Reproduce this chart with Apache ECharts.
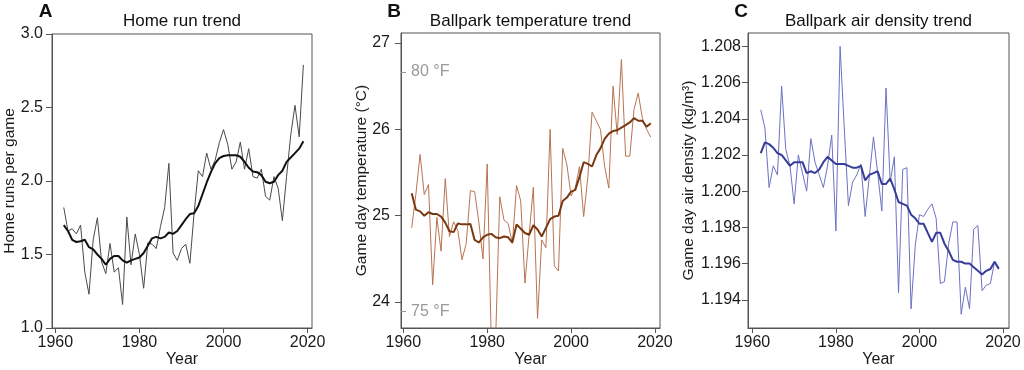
<!DOCTYPE html>
<html>
<head>
<meta charset="utf-8">
<script src="https://cdn.jsdelivr.net/npm/echarts@6/dist/echarts.min.js"></script>
<style>html,body{margin:0;padding:0;background:#fff}#c{width:1024px;height:370px}</style>
</head>
<body>
<div id="c"></div>
<script>
var years = [1962,1963,1964,1965,1966,1967,1968,1969,1970,1971,1972,1973,1974,1975,1976,1977,1978,1979,1980,1981,1982,1983,1984,1985,1986,1987,1988,1989,1990,1991,1992,1993,1994,1995,1996,1997,1998,1999,2000,2001,2002,2003,2004,2005,2006,2007,2008,2009,2010,2011,2012,2013,2014,2015,2016,2017,2018,2019];
var yearTicks = [1960, 1980, 2000, 2020];

var hrRaw = [1.82,1.66,1.675,1.64,1.70,1.38,1.23,1.60,1.75,1.45,1.37,1.575,1.38,1.41,1.16,1.755,1.43,1.64,1.50,1.27,1.58,1.57,1.54,1.69,1.82,2.12,1.51,1.46,1.54,1.57,1.44,1.78,2.07,2.03,2.19,2.08,2.14,2.26,2.35,2.25,2.08,2.13,2.265,2.08,2.22,2.03,2.02,2.08,1.895,1.87,2.03,1.95,1.73,2.03,2.315,2.515,2.30,2.79];
var hrSmooth = [1.70,1.66,1.60,1.585,1.59,1.60,1.55,1.535,1.50,1.47,1.43,1.47,1.49,1.49,1.46,1.445,1.46,1.47,1.48,1.51,1.56,1.61,1.62,1.61,1.62,1.65,1.64,1.66,1.70,1.74,1.775,1.78,1.83,1.91,1.99,2.06,2.12,2.155,2.17,2.175,2.175,2.175,2.165,2.13,2.09,2.065,2.06,2.04,1.995,1.985,1.995,2.04,2.07,2.13,2.16,2.19,2.22,2.27];
var hrTicks = [1.0, 1.5, 2.0, 2.5, 3.0];

var tempRaw = [24.86,25.25,25.71,25.245,25.36,24.20,24.98,24.59,25.43,24.76,24.93,24.83,24.49,24.68,25.29,25.28,24.93,24.50,25.60,23.50,23.55,25.22,24.95,24.91,24.68,25.35,25.17,24.22,24.78,25.33,23.81,24.72,24.63,26.00,24.42,24.36,25.78,25.59,25.23,25.32,25.57,24.99,25.45,26.20,26.10,26.00,25.57,25.32,26.50,25.94,26.81,25.69,25.69,26.23,26.42,26.13,26.00,25.91];
var tempSmooth = [25.26,25.07,25.05,25.00,25.04,25.02,25.02,24.99,24.92,24.82,24.81,24.91,24.90,24.90,24.905,24.72,24.69,24.75,24.78,24.79,24.75,24.74,24.76,24.75,24.69,24.90,24.85,24.80,24.78,24.89,24.84,24.76,24.86,24.96,24.99,25.00,25.17,25.21,25.28,25.30,25.45,25.62,25.60,25.57,25.70,25.78,25.89,25.95,25.98,25.99,26.02,26.05,26.08,26.13,26.10,26.10,26.03,26.07];
var tempTicks = [24, 25, 26, 27];
var fahrTicks = [75, 80];

var densRaw = [1.2045,1.2035,1.2002,1.2014,1.2009,1.2058,1.2023,1.2014,1.1993,1.2020,1.2010,1.2000,1.2029,1.2016,1.2009,1.2002,1.2014,1.2031,1.1978,1.2080,1.2035,1.1992,1.2005,1.2009,1.2015,1.1986,1.2008,1.2030,1.2010,1.1989,1.2057,1.2005,1.2019,1.1944,1.2012,1.2013,1.1935,1.1970,1.1987,1.1986,1.1990,1.1993,1.1985,1.1949,1.1950,1.1971,1.1983,1.1983,1.1932,1.1947,1.1935,1.1979,1.1981,1.1945,1.1948,1.1949,1.1961,1.1958];
var densSmooth = [1.2021,1.2027,1.2026,1.2024,1.2021,1.2020,1.2017,1.2014,1.2016,1.2016,1.2016,1.2010,1.2011,1.2010,1.2012,1.2016,1.2019,1.2017,1.2015,1.2015,1.2015,1.2014,1.2013,1.2013,1.2014,1.2006,1.2009,1.2010,1.2011,1.2004,1.2004,1.2007,1.2001,1.1994,1.1993,1.1992,1.1987,1.1985,1.1982,1.1982,1.1977,1.1972,1.1977,1.1977,1.1971,1.1967,1.1962,1.1961,1.1961,1.1960,1.1960,1.1958,1.1956,1.1954,1.1956,1.1957,1.1961,1.1957];
var densTicks = [1.194, 1.196, 1.198, 1.200, 1.202, 1.204, 1.206, 1.208];

var titles = ['Home run trend', 'Ballpark temperature trend', 'Ballpark air density trend'];
var letters = ['A', 'B', 'C'];
var yNames = ['Home runs per game', 'Game day temperature (\u00B0C)', 'Game day air density (kg/m\u00B3)'];
var xName = 'Year';

function pairs(v) { return years.map(function (y, i) { return [y, v[i]]; }); }

var FONT = '"Liberation Sans", Arial, Helvetica, sans-serif';
var AX = '#555';
var grids = [
  {left: 52, top: 34, width: 260, height: 294, xmin: 1959.2, xmax: 2021.05},
  {left: 401, top: 33, width: 259, height: 295, xmin: 1959.45, xmax: 2021.2},
  {left: 748, top: 33, width: 261, height: 295, xmin: 1958.95, xmax: 2021.45}
];
var yCfg = [
  {min: 1.0, max: 3.0, ticks: hrTicks, fmt: function (v) { return v.toFixed(1); }, margin: 9},
  {min: 23.70, max: 27.116, ticks: tempTicks, fmt: function (v) { return String(v); }, margin: 11},
  {min: 1.19244, max: 1.20874, ticks: densTicks, fmt: function (v) { return v.toFixed(3); }, margin: 7}
];
var yNameX = [9.5, 362, 688.5];
var letterX = [45.5, 394, 741];

var option = {
  animation: false,
  backgroundColor: '#fff',
  grid: grids.map(function (g) {
    return {left: g.left, top: g.top, width: g.width, height: g.height, show: true, borderColor: AX, borderWidth: 1, backgroundColor: 'transparent'};
  }),
  xAxis: grids.map(function (g, i) {
    return {
      type: 'value', gridIndex: i, min: g.xmin, max: g.xmax,
      axisLine: {show: true, lineStyle: {color: AX, width: 1}},
      axisTick: {show: true, length: 5, lineStyle: {color: AX}, customValues: yearTicks},
      axisLabel: {show: true, customValues: yearTicks, fontSize: 16, fontFamily: FONT, color: '#1a1a1a', margin: 7,
        formatter: function (v) { return String(Math.round(v)); }},
      splitLine: {show: false}
    };
  }),
  yAxis: yCfg.map(function (c, i) {
    return {
      type: 'value', gridIndex: i, min: c.min, max: c.max,
      axisLine: {show: true, lineStyle: {color: AX, width: 1}},
      axisTick: {show: true, length: 6, lineStyle: {color: AX}, customValues: c.ticks},
      axisLabel: {show: true, customValues: c.ticks, fontSize: 16, fontFamily: FONT, color: '#1a1a1a', margin: c.margin, formatter: c.fmt},
      splitLine: {show: false}
    };
  }).concat([{
    type: 'value', gridIndex: 1, position: 'left',
    min: yCfg[1].min * 1.8 + 32, max: yCfg[1].max * 1.8 + 32,
    axisLine: {show: false},
    axisTick: {show: true, inside: true, length: 5, lineStyle: {color: '#999'}, customValues: fahrTicks},
    axisLabel: {show: true, inside: true, customValues: fahrTicks, fontSize: 16, fontFamily: FONT, color: '#999', margin: 10,
      formatter: function (v) { return Math.round(v) + ' \u00B0F'; }},
    splitLine: {show: false}
  }]),
  series: [
    {type: 'line', xAxisIndex: 0, yAxisIndex: 0, data: pairs(hrRaw), symbol: 'none', lineStyle: {color: '#4a4a4a', width: 1}, z: 2},
    {type: 'line', xAxisIndex: 0, yAxisIndex: 0, data: pairs(hrSmooth), symbol: 'none', lineStyle: {color: '#111', width: 2}, z: 3},
    {type: 'line', xAxisIndex: 1, yAxisIndex: 1, data: pairs(tempRaw), symbol: 'none', lineStyle: {color: '#b87452', width: 1}, z: 2},
    {type: 'line', xAxisIndex: 1, yAxisIndex: 1, data: pairs(tempSmooth), symbol: 'none', lineStyle: {color: '#7a3812', width: 2}, z: 3},
    {type: 'line', xAxisIndex: 2, yAxisIndex: 2, data: pairs(densRaw), symbol: 'none', lineStyle: {color: '#6c72c4', width: 1}, z: 2},
    {type: 'line', xAxisIndex: 2, yAxisIndex: 2, data: pairs(densSmooth), symbol: 'none', lineStyle: {color: '#363c98', width: 2}, z: 3}
  ],
  graphic: []
};

grids.forEach(function (g, i) {
  var cx = g.left + g.width / 2;
  option.graphic.push({type: 'text', x: cx, y: 21.5, style: {text: titles[i], font: '17px ' + FONT, fill: '#111', align: 'center', verticalAlign: 'middle'}});
  option.graphic.push({type: 'text', x: letterX[i], y: 12, style: {text: letters[i], font: 'bold 19px ' + FONT, fill: '#111', align: 'center', verticalAlign: 'middle'}});
  option.graphic.push({type: 'text', x: cx, y: 360, style: {text: xName, font: '16px ' + FONT, fill: '#1a1a1a', align: 'center', verticalAlign: 'middle'}});
  option.graphic.push({type: 'text', x: yNameX[i], y: g.top + g.height / 2, rotation: Math.PI / 2, style: {text: yNames[i], font: '15.5px ' + FONT, fill: '#1a1a1a', align: 'center', verticalAlign: 'middle'}});
});

var chart = echarts.init(document.getElementById('c'), null, {renderer: 'canvas'});
chart.setOption(option);
</script>
</body>
</html>
